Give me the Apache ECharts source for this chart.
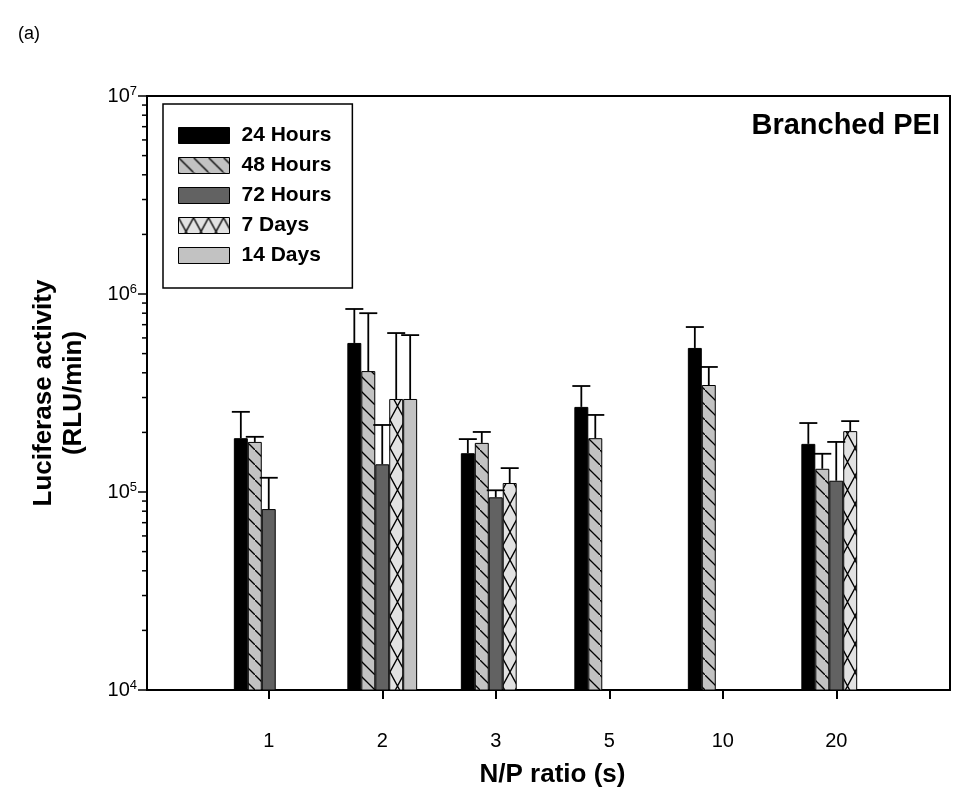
<!DOCTYPE html>
<html><head><meta charset="utf-8">
<script src="https://cdn.jsdelivr.net/npm/echarts@6/dist/echarts.min.js"></script>
<style>html,body{margin:0;padding:0;background:#fff}#c{width:978px;height:805px}</style>
</head><body><div id="c"></div>
<script>
// ---- data ----
const categories = ['1', '2', '3', '5', '10', '20'];
const seriesNames = ['24 Hours', '48 Hours', '72 Hours', '7 Days', '14 Days'];
const h24   = [1.87e5, 5.66e5, 1.57e5, 2.69e5, 5.34e5, 1.75e5];
const h24Up = [2.54e5, 8.40e5, 1.85e5, 3.43e5, 6.81e5, 2.23e5];
const h48   = [1.79e5, 4.08e5, 1.77e5, 1.87e5, 3.47e5, 1.31e5];
const h48Up = [1.90e5, 8.00e5, 2.01e5, 2.45e5, 4.28e5, 1.56e5];
const h72   = [8.2e4, 1.38e5, 9.4e4, null, null, 1.14e5];
const h72Up = [1.18e5, 2.18e5, 1.02e5, null, null, 1.79e5];
const d7    = [null, 2.95e5, 1.11e5, null, null, 2.03e5];
const d7Up  = [null, 6.35e5, 1.32e5, null, null, 2.28e5];
const d14   = [null, 2.95e5, null, null, null, null];
const d14Up = [null, 6.20e5, null, null, null, null];
const yMin = 1e4, yMax = 1e7;

// ---- patterns ----
function makePattern(bg, kind) {
  const w = kind === 'cross' ? 15 : 15;
  const h = kind === 'cross' ? 28 : 15;
  const c = document.createElement('canvas');
  c.width = w; c.height = h;
  const g = c.getContext('2d');
  g.fillStyle = bg; g.fillRect(0, 0, w, h);
  g.strokeStyle = '#000'; g.lineWidth = 1.3;
  g.beginPath();
  if (kind === 'back') {
    g.moveTo(-2, -2); g.lineTo(w + 2, h + 2);
  }
  if (kind === 'cross') {
    g.moveTo(0, 0); g.lineTo(w, h);
    g.moveTo(w, 0); g.lineTo(0, h);
  }
  g.stroke();
  return { image: c, repeat: 'repeat' };
}
const colors = [
  '#000000',
  makePattern('#c2c2c2', 'back'),
  '#626262',
  makePattern('#e2e2e2', 'cross'),
  '#c2c2c2'
];
const BAR_RATIO = 0.123;
const allVals = [h24, h48, h72, d7, d14];
const allUps = [h24Up, h48Up, h72Up, d7Up, d14Up];

const minorVals = [];
for (let e = 4; e < 7; e++) for (let k = 2; k <= 9; k++) minorVals.push([0, k * Math.pow(10, e)]);

const series = [];
allVals.forEach((vals, i) => {
  series.push({
    type: 'bar', name: seriesNames[i], xAxisIndex: 1, yAxisIndex: 1,
    data: vals, barWidth: (BAR_RATIO * 100) + '%', barGap: '0%',
    itemStyle: { color: colors[i], borderColor: '#000', borderWidth: 1 },
    emphasis: { disabled: true }, animation: false
  });
});
allVals.forEach((vals, i) => {
  const d = [];
  vals.forEach((v, k) => { if (v != null) d.push([k, v, allUps[i][k]]); });
  series.push({
    type: 'custom', xAxisIndex: 1, yAxisIndex: 1, z: 6, silent: true, animation: false,
    data: d,
    renderItem(params, api) {
      const k = api.value(0), v = api.value(1), hi = api.value(2);
      const c0 = api.coord([k, v]), c1 = api.coord([k, hi]);
      const band = api.coord([1, v])[0] - api.coord([0, v])[0];
      const bw = band * BAR_RATIO;
      const x = c0[0] + (i - 2) * bw;
      const half = 9;
      const st = { stroke: '#000', lineWidth: 1.8 };
      return { type: 'group', children: [
        { type: 'line', shape: { x1: x, y1: c0[1], x2: x, y2: c1[1] }, style: st },
        { type: 'line', shape: { x1: x - half, y1: c1[1], x2: x + half, y2: c1[1] }, style: st }
      ]};
    }
  });
});
// minor ticks of log y axis
series.push({
  type: 'custom', xAxisIndex: 0, yAxisIndex: 0, silent: true, animation: false, clip: false,
  data: minorVals,
  renderItem(params, api) {
    const c = api.coord([api.value(0), api.value(1)]);
    return { type: 'line', shape: { x1: c[0] - 5, y1: c[1], x2: c[0], y2: c[1] }, style: { stroke: '#000', lineWidth: 1.5 } };
  }
});

const chart = echarts.init(document.getElementById('c'), null, { renderer: 'canvas' });
const FONT = 'Liberation Sans, Arial, Helvetica, sans-serif';
chart.setOption({
  backgroundColor: '#fff',
  animation: false,
  textStyle: { fontFamily: FONT, color: '#000' },
  title: [
    { text: '(a)', left: 13, top: 20, textStyle: { fontSize: 18, fontWeight: 'normal', color: '#000', fontFamily: FONT } },
    { text: 'Branched PEI', right: 33, top: 106, textStyle: { fontSize: 29, fontWeight: 'bold', color: '#000', fontFamily: FONT } }
  ],
  legend: {
    data: seriesNames, orient: 'vertical', left: 163, top: 104,
    itemWidth: 51, itemHeight: 16, itemGap: 9, icon: 'rect',
    padding: [21, 21, 22, 15],
    borderColor: '#000', borderWidth: 1.5,
    textStyle: { fontSize: 21, fontWeight: 'bold', color: '#000', fontFamily: FONT, padding: [0, 0, 0, 7] },
    itemStyle: { borderColor: '#000', borderWidth: 1 },
    selectedMode: false
  },
  grid: [
    { left: 147, right: 28, top: 96, bottom: 115, show: true, borderColor: '#000', borderWidth: 2, backgroundColor: 'transparent' },
    { left: 212, right: 85, top: 96, bottom: 115 }
  ],
  xAxis: [
    { type: 'value', gridIndex: 0, min: 0, max: 1, show: false },
    {
      type: 'category', gridIndex: 1, data: categories,
      axisLine: { show: false },
      axisTick: { show: true, alignWithLabel: true, length: 9, lineStyle: { color: '#000', width: 2 } },
      axisLabel: { margin: 41, fontSize: 20, color: '#000', fontFamily: FONT },
      name: 'N/P ratio (s)', nameLocation: 'middle', nameGap: 72,
      nameTextStyle: { fontSize: 26, fontWeight: 'bold', color: '#000', fontFamily: FONT }
    }
  ],
  yAxis: [
    {
      type: 'log', gridIndex: 0, logBase: 10, min: yMin, max: yMax,
      axisLine: { show: true, lineStyle: { color: '#000', width: 2 } },
      axisTick: { show: true, length: 9, lineStyle: { color: '#000', width: 1.5 } },
      splitLine: { show: false },
      axisLabel: {
        margin: 10, color: '#000',
        formatter: v => '{b|10}{s|' + Math.round(Math.log10(v)) + '}',
        rich: {
          b: { fontSize: 20, fontFamily: FONT, lineHeight: 22, verticalAlign: 'middle' },
          s: { fontSize: 13, fontFamily: FONT, lineHeight: 13, verticalAlign: 'top' }
        }
      },
      name: 'Luciferase activity\n(RLU/min)', nameLocation: 'middle', nameGap: 58,
      nameTextStyle: { fontSize: 26, fontWeight: 'bold', color: '#000', fontFamily: FONT, lineHeight: 30 }
    },
    { type: 'log', gridIndex: 1, logBase: 10, min: yMin, max: yMax, show: false }
  ],
  series: series
});
</script>
</body></html>
